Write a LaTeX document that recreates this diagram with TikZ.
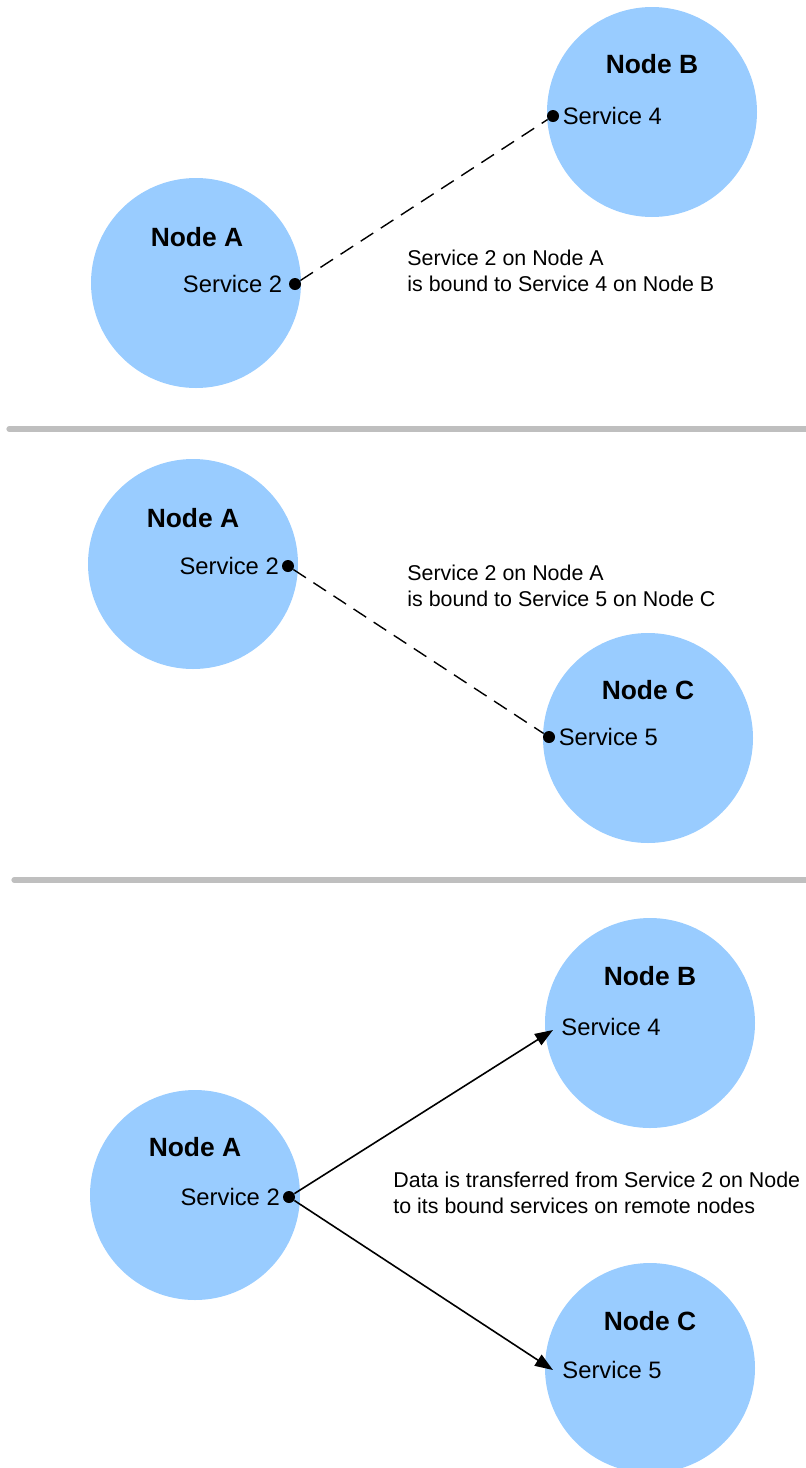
\documentclass[tikz,border=0pt]{standalone}
\usepackage{fontspec}
\setmainfont{Liberation Sans}
\usetikzlibrary{positioning,arrows.meta}
\definecolor{skyblue}{HTML}{99CCFF}
\definecolor{sepgray}{HTML}{BFBFBF}

\begin{document}
\begin{tikzpicture}[x=0.5pt,y=-0.5pt,
	host/.style={circle,fill=skyblue,minimum size=105pt,inner sep=0},
	hostname/.style={font=\fontsize{13.2}{15}\selectfont\bfseries,inner sep=0},
	svc/.style={font=\fontsize{11.9}{14}\selectfont,inner sep=0},
	dot/.style={circle,fill=black,minimum size=6pt,inner sep=0},
	note/.style={font=\fontsize{10.7}{12.9}\selectfont,align=left,inner sep=0,anchor=west},
	bind/.style={dash pattern=on 7.5pt off 4.5pt,line width=0.7pt},
	sep/.style={line width=2.6pt,color=sepgray,line cap=round}]
	\useasboundingbox (0,0) rectangle (805,1468);

	% binding A -> B
	\node[host] (hA1) at (196,283) {};
	\node[host] (hB1) at (652,112) {};
	\node[hostname] (nA1) at (197,237) {Node A};
	\node[hostname] (nB1) at (652,64) {Node B};
	\node[dot] (a2) at (295,284) {};
	\node[dot] (b4) at (553,116) {};
	\node[svc,left=3pt of a2] (sA1) {Service 2};
	\node[svc,right=1.5pt of b4] (sB1) {Service 4};
	\draw[bind] (a2) -- (b4);
	\node[note] (t1) at (407,271) {Service 2 on Node A\\is bound to Service 4 on Node B};

	\draw[sep] (9,429) -- (830,429);

	% binding A -> C
	\node[host] (hA2) at (193,564) {};
	\node[host] (hC2) at (648,738) {};
	\node[hostname] (nA2) at (193,518) {Node A};
	\node[hostname] (nC2) at (648,690) {Node C};
	\node[dot] (a2b) at (288,566) {};
	\node[dot] (c5) at (549,737) {};
	\node[svc,left=1.2pt of a2b] (sA2) {Service 2};
	\node[svc,right=1.5pt of c5] (sC2) {Service 5};
	\draw[bind] (a2b) -- (c5);
	\node[note] (t2) at (407,586) {Service 2 on Node A\\is bound to Service 5 on Node C};

	\draw[sep] (14,880) -- (830,880);

	% data transfer
	\node[host] (hB3) at (650,1023) {};
	\node[host] (hA3) at (195,1195) {};
	\node[host] (hC3) at (650,1368) {};
	\node[hostname] (nB3) at (650,976) {Node B};
	\node[hostname] (nA3) at (195,1147) {Node A};
	\node[hostname] (nC3) at (650,1321) {Node C};
	\node[dot] (src) at (289,1197) {};
	\node[svc,left=1.2pt of src] (sA3) {Service 2};
	\node[svc,anchor=west] (sB3) at (561,1027) {Service 4};
	\node[svc,anchor=west] (sC3) at (562,1370) {Service 5};
	\coordinate (toB) at (553,1030);
	\coordinate (toC) at (553,1370);
	\draw[-{Triangle[length=9pt,width=6.5pt]},line width=0.8pt] (src) -- (toB);
	\draw[-{Triangle[length=9pt,width=6.5pt]},line width=0.8pt] (src) -- (toC);
	\node[note] (t3) at (393,1193) {Data is transferred from Service 2 on Node A\\to its bound services on remote nodes};
\end{tikzpicture}
\end{document}
